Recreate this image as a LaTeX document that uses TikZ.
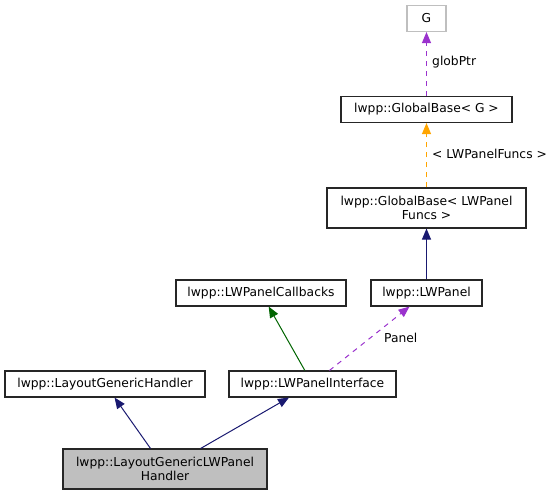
\documentclass[tikz,border=0pt]{standalone}
\usepackage{fontspec}
\setmainfont{DejaVu Sans}
\usetikzlibrary{arrows.meta}
\definecolor{inhblue}{HTML}{191970}
\definecolor{inhgreen}{HTML}{006400}
\definecolor{usepurple}{HTML}{9A32CD}
\definecolor{tmplorange}{HTML}{FFA500}
\begin{document}
\begin{tikzpicture}[x=1pt,y=-1pt,
	cls/.style={draw=black!85,fill=white,line width=1.1pt,inner sep=0pt,minimum height=26pt,align=center,font=\fontsize{12.3}{13.5}\selectfont},
	tip/.style={-{Triangle[length=11pt,width=9pt]}},
	lbl/.style={anchor=west,inner sep=0pt,font=\fontsize{12.3}{13.5}\selectfont}]
		\useasboundingbox (0,0) rectangle (557,496);
		%classes
		\node[cls,draw=black!25,minimum width=39pt](g) at (426.5,18.5) {G};
		\node[cls,minimum width=171pt](gbg) at (426.5,109.5) {lwpp::GlobalBase< G >};
		\node[cls,minimum width=199pt,minimum height=40pt](gbf) at (426.5,208) {lwpp::GlobalBase< LWPanel\\Funcs >};
		\node[cls,minimum width=170pt](callbacks) at (261,293) {lwpp::LWPanelCallbacks};
		\node[cls,minimum width=111pt](panel) at (426.5,293) {lwpp::LWPanel};
		\node[cls,minimum width=200pt](handler) at (105,384) {lwpp::LayoutGenericHandler};
		\node[cls,minimum width=167pt](iface) at (312.5,384) {lwpp::LWPanelInterface};
		\node[cls,fill=black!25,minimum width=204pt,minimum height=40pt](main) at (165,469) {lwpp::LayoutGenericLWPanel\\Handler};
		%inheritance
		\draw[tip,line width=1pt,color=inhblue] (main) -- (handler);
		\draw[tip,line width=1pt,color=inhblue] (main) -- (iface);
		\draw[tip,line width=1pt,color=inhgreen] (iface) -- (callbacks);
		\draw[tip,line width=1pt,color=inhblue] (panel) -- (gbf);
		%usage and templates
		\draw[tip,line width=1pt,color=usepurple,dash pattern=on 5pt off 5pt] (iface) -- (panel);
		\draw[tip,line width=1pt,color=tmplorange,dash pattern=on 5pt off 5pt] (gbf) -- (gbg);
		\draw[tip,line width=1pt,color=usepurple,dash pattern=on 5pt off 5pt] (gbg) -- (g);
		%labels
		\node[lbl](globptr) at (432,62) {globPtr};
		\node[lbl](tmplarg) at (432,154) {< LWPanelFuncs >};
		\node[lbl](panelvar) at (384,338) {Panel};
\end{tikzpicture}
\end{document}
